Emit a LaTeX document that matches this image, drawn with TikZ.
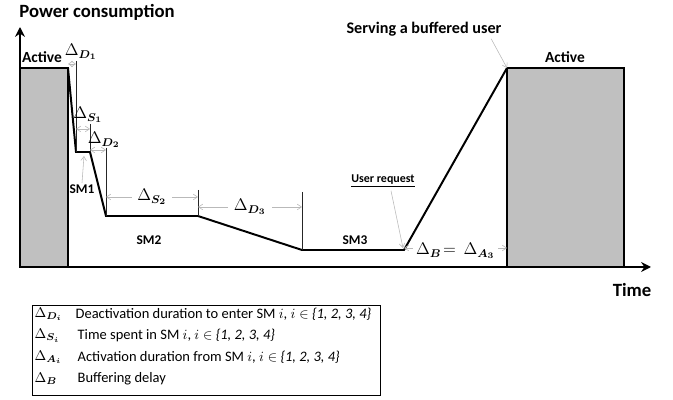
\documentclass[tikz,border=0pt]{standalone}
\usepackage{amsmath,amssymb}
\usepackage{fontspec}
\setmainfont{Carlito}
\usepackage{tikz}
\usetikzlibrary{arrows.meta}

\begin{document}
\begin{tikzpicture}[x=0.025cm,y=-0.025cm]
\tikzstyle{every node}=[font=\fontsize{11.5}{13}\selectfont, inner sep=1pt, text=black]
\tikzstyle{dim}=[gray!55, line width=0.4pt, {Straight Barb[length=3pt,width=4pt]}-{Straight Barb[length=3pt,width=4pt]}]
\tikzstyle{pointer}=[gray!55, line width=0.4pt, -{Straight Barb[length=3pt,width=4pt]}]
\tikzstyle{marker}=[line width=0.6pt, black!85]
\tikzstyle{activebox}=[draw, line width=0.8pt, fill={rgb,255:red,192; green,192; blue,192}]
\tikzstyle{big}=[font=\fontsize{13.3}{15}\selectfont\bfseries]
\tikzstyle{sm}=[font=\fontsize{9.5}{11}\selectfont\bfseries]
\tikzstyle{legend}=[anchor=west, font=\fontsize{10.3}{12}\selectfont]
\useasboundingbox (0,0) rectangle (673,400);

% active periods
\draw[activebox] (20,68) rectangle (68,267);
\draw[activebox] (507,68) rectangle (624,267);

% axes
\draw[line width=1.5pt, -{Stealth[length=7pt,width=7pt]}] (20,267) -- (20,27);
\draw[line width=1.5pt, -{Stealth[length=7pt,width=7pt]}] (20,267) -- (651,267);
\node[big] (pc) at (97,12) {Power consumption};
\node[big] (time) at (632,290) {Time};

% power curve
\coordinate (p0) at (68,68);
\coordinate (p1) at (76,152);
\coordinate (p2) at (90,152);
\coordinate (p3) at (106,216);
\coordinate (p4) at (198,216);
\coordinate (p5) at (302,250);
\coordinate (p6) at (404,250);
\coordinate (p7) at (507,68);
\draw[line width=1.4pt, line join=miter] (p0) -- (p1) -- (p2) -- (p3) -- (p4) -- (p5) -- (p6) -- (p7);

% markers
\draw[marker] (76,61) -- (p1);
\draw[marker] (90,124) -- (p2);
\draw[marker] (106,148) -- (p3);
\draw[marker] (198,190) -- (p4);
\draw[marker] (302,192) -- (p5);

% durations
\draw[dim] (68,64) -- (76,64);
\node (dd1) at (81,52) {$\Delta_{\boldsymbol{D_1}}$};
\draw[dim] (76,129) -- (90,129);
\node (ds1) at (88,115) {$\Delta_{\boldsymbol{S_1}}$};
\draw[dim] (90,150) -- (106,150);
\node (dd2) at (104,140) {$\Delta_{\boldsymbol{D_2}}$};
\draw[dim] (106,197) -- node[fill=white, inner xsep=4pt] (ds2) {$\Delta_{\boldsymbol{S_2}}$} (198,197);
\draw[dim] (198,207) -- node[fill=white, inner xsep=4pt] (dd3) {$\Delta_{\boldsymbol{D_3}}$} (302,207);
\draw[dim] (p6 |- 0,248) -- node[fill=white, inner xsep=2pt, yshift=-2pt] (db) {$\Delta_{\boldsymbol{B}}\!=\,\Delta_{\boldsymbol{A_3}}$} (507,248);

% labels
\node[font=\fontsize{11}{13}\selectfont\bfseries] (actl) at (42,57) {Active};
\node[font=\fontsize{11}{13}\selectfont\bfseries] (actr) at (565,57) {Active};
\node[sm] (sm1) at (82,189) {SM1};
\draw[pointer] (sm1.north) -- (84,156);
\node[sm] (sm2) at (149,240) {SM2};
\node[sm] (sm3) at (355,240) {SM3};
\node[font=\fontsize{8.5}{10}\selectfont\bfseries] (req) at (383,181) {\underline{User request}};
\draw[pointer] (req.south) ++(8,2) -- (403,248);
\node[font=\fontsize{11.5}{13}\selectfont\bfseries] (serv) at (424,29) {Serving a buffered user};
\draw[pointer] (serv.south east) ++(-12,1) -- (p7);

% legend
\draw[line width=0.6pt] (32,305) rectangle (380,395);
\node[legend] (l1) at (33,314) {$\Delta_{\boldsymbol{D_i}}$};
\node[legend] (l2) at (33,335.5) {$\Delta_{\boldsymbol{S_i}}$};
\node[legend] (l3) at (33,357) {$\Delta_{\boldsymbol{A_i}}$};
\node[legend] (l4) at (33,378.5) {$\Delta_{\boldsymbol{B}}$};
\node[legend] (t1) at (74,314) {Deactivation duration to enter SM $i$, $i \in$ \textit{\{1, 2, 3, 4\}}};
\node[legend] (t2) at (76,335.5) {Time spent in SM $i$, $i \in$ \textit{\{1, 2, 3, 4\}}};
\node[legend] (t3) at (76,357) {Activation duration from SM $i$, $i \in$ \textit{\{1, 2, 3, 4\}}};
\node[legend] (t4) at (76,378.5) {Buffering delay};
\end{tikzpicture}
\end{document}
